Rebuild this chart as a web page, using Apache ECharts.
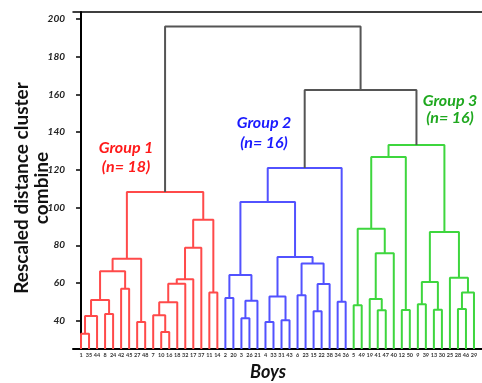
<!DOCTYPE html>
<html><head><meta charset="utf-8">
<script src="https://cdn.jsdelivr.net/npm/echarts@6/dist/echarts.min.js"></script>
<style>html,body{margin:0;padding:0;background:#fff}#c{width:482px;height:383px}</style>
</head><body><div id="c"></div>
<script>
// Leaf order (boys) along the x axis
const leafLabels = ['1','35','44','8','24','42','45','27','48','7','10','16','18','32','17','37','11','14',
  '2','20','3','26','21','4','33','31','43','6','23','15','22','38','34','36',
  '5','49','19','41','47','40','12','50','9','39','13','30','25','28','46','29'];
const groupSizes = [18, 16, 16];
const groupNames = ['Group 1', 'Group 2', 'Group 3'];
const groupN = ['(n= 18)', '(n= 16)', '(n= 16)'];
// Merges: [childA, childB, height]; ids 0..49 are leaves, 50+k is merge k
const merges = [
  [0,1,33.1],[50,2,42.5],[3,4,43.6],[51,52,51.0],[5,6,57.0],[53,54,66.2],[7,8,39.3],[55,56,72.9],
  [10,11,34.0],[9,58,42.9],[59,12,49.8],[60,13,59.6],[61,14,62.0],[62,15,78.7],[16,17,54.9],[63,64,93.6],
  [57,65,108.3],
  [18,19,52.0],[20,21,41.3],[68,22,50.6],[67,69,64.2],[23,24,39.3],[25,26,40.2],[71,72,52.9],
  [27,28,53.5],[29,30,45.0],[75,31,59.5],[74,76,70.4],[73,77,73.8],[70,78,103.0],[32,33,50.1],[79,80,121.0],
  [34,35,48.2],[37,38,45.5],[36,83,51.5],[84,39,75.8],[82,85,88.8],[40,41,45.7],[86,87,126.8],
  [42,43,48.7],[44,45,45.8],[89,90,60.5],[47,48,46.2],[92,49,54.9],[46,93,62.8],[91,94,87.1],[88,95,133.2],
  [81,96,162.4],[66,97,196.0]
];
const yTicks = [40,60,80,100,120,140,160,180,200];
const groupColors = ['#ff4a4a','#5252ff','#3ed63e'];
const labelColors = ['#ff1a1a','#1a1aff','#1fa81f'];
const rootColor = '#555555';
const yMin = 25, yMax = 203.7;

// build node positions
const nodes = [];
let g = 0, cnt = 0;
leafLabels.forEach((l, i) => {
  while (cnt >= groupSizes[g]) { g++; cnt = 0; }
  nodes.push({x: i, h: yMin, g: g});
  cnt++;
});
merges.forEach(m => {
  const a = nodes[m[0]], b = nodes[m[1]];
  nodes.push({x: (a.x + b.x) / 2, h: m[2], g: a.g === b.g ? a.g : -1});
});
const series = merges.map((m, k) => {
  const a = nodes[m[0]], b = nodes[m[1]], n = nodes[50 + k];
  return {
    type: 'line', silent: true, symbol: 'none', animation: false,
    data: [[a.x, a.h], [a.x, m[2]], [b.x, m[2]], [b.x, b.h]],
    lineStyle: {width: 2, color: n.g < 0 ? rootColor : groupColors[n.g]}
  };
});

const FONT = 'Lato, "Open Sans", sans-serif';
const gtext = (text, x, y, font, fill, rot) => ({
  type: 'text', x: x, y: y, rotation: rot || 0, silent: true,
  style: {text: text, font: font, fill: fill, textAlign: 'center', textVerticalAlign: 'middle', align: 'center', verticalAlign: 'middle'}
});
const groupPos = [[126,148,167],[264,123,143],[450,101,118]];
const graphics = [
  gtext('Rescaled distance cluster', 22, 188, 'bold 19px ' + FONT, '#111', Math.PI/2),
  gtext('combine', 42, 188, 'bold 19px ' + FONT, '#111', Math.PI/2),
  gtext('Boys', 268, 372, 'italic bold 18px ' + FONT, '#111', 0)
];
groupPos.forEach((p, i) => {
  graphics.push(gtext(groupNames[i], p[0], p[1], 'italic bold 16px ' + FONT, labelColors[i]));
  graphics.push(gtext(groupN[i], p[0], p[2], 'italic bold 16px ' + FONT, labelColors[i]));
});

const chart = echarts.init(document.getElementById('c'), null, {renderer: 'canvas'});
chart.setOption({
  animation: false,
  backgroundColor: '#fff',
  grid: {left: 73, right: 0, top: 12, bottom: 34, containLabel: false},
  xAxis: [{
    type: 'value', min: -1, max: 50, position: 'bottom',
    axisLine: {show: true, lineStyle: {color: '#000', width: 2}},
    axisTick: {show: false},
    splitLine: {show: false},
    axisLabel: {
      customValues: leafLabels.map((l, i) => i),
      formatter: v => leafLabels[v] || '',
      fontSize: 5.5, color: '#333', margin: 3, fontFamily: FONT, fontWeight: 'bold'
    }
  }, {
    type: 'value', min: -1, max: 50, position: 'top',
    axisLine: {show: true, onZero: false, lineStyle: {color: '#000', width: 1.5}},
    axisTick: {show: false}, axisLabel: {show: false}, splitLine: {show: false}
  }],
  yAxis: {
    type: 'value', min: yMin, max: yMax,
    axisLine: {show: true, lineStyle: {color: '#000', width: 2}},
    axisTick: {show: true, customValues: yTicks, length: 5, lineStyle: {color: '#000', width: 1.5}},
    axisLabel: {customValues: yTicks, fontSize: 10, fontStyle: 'italic', fontWeight: 'bold', color: '#222', margin: 8, fontFamily: FONT},
    splitLine: {show: false}
  },
  series: series,
  graphic: graphics
});
</script></body></html>
